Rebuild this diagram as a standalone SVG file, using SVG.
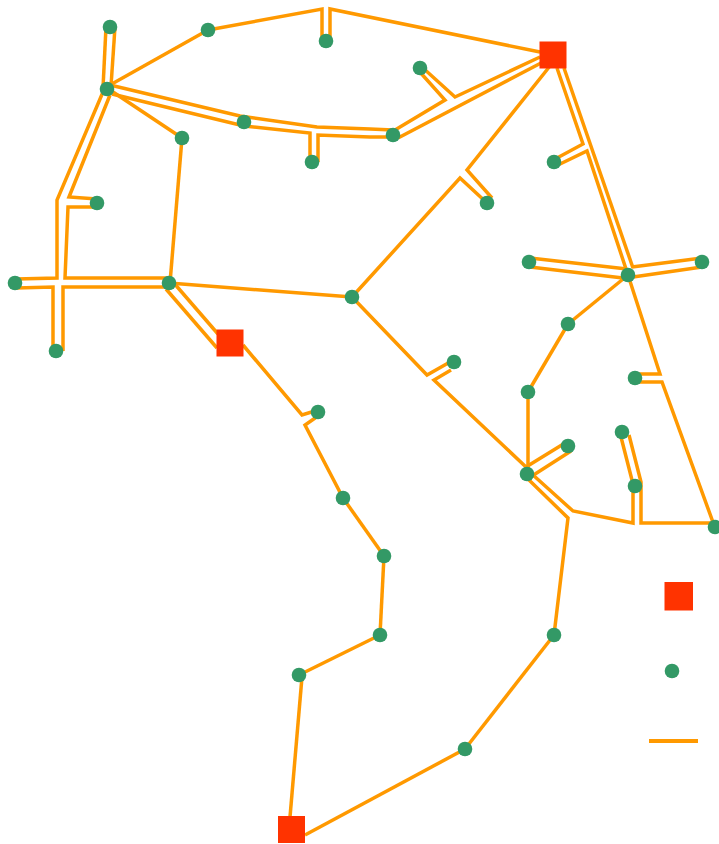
<svg xmlns="http://www.w3.org/2000/svg" width="719" height="844" viewBox="0 0 719 844">
<style>
.e{fill:none;stroke:#FF9900;stroke-width:3.5;stroke-linejoin:miter}
.n{fill:#339966}
.s{fill:#FF3300}
</style>
<rect width="719" height="844" fill="#ffffff"/>
<g id="connectors">
<polyline class="e" points="106,27 103,88"/>
<polyline class="e" points="115,27 111,86"/>
<polyline class="e" points="110,85 208,30"/>
<polyline class="e" points="208,30 322,9 322,42"/>
<polyline class="e" points="330,42 330,9 540,52"/>
<polyline class="e" points="110,85 240,116 317,127 370,129 393,130"/>
<polyline class="e" points="112,94 244,126 310,133 310,162"/>
<polyline class="e" points="318,162 318,135 370,137 393,137"/>
<polyline class="e" points="107,88 182,138"/>
<polyline class="e" points="182,138 170,283"/>
<polyline class="e" points="103,92 57,200 57,278 16,279"/>
<polyline class="e" points="110,95 69,197 97,199"/>
<polyline class="e" points="97,207 68,207 65,278 169,278"/>
<polyline class="e" points="16,288 53,287 53,351"/>
<polyline class="e" points="63,351 63,287 169,287"/>
<polyline class="e" points="169,283 352,297"/>
<polyline class="e" points="173,282 218,334"/>
<polyline class="e" points="166,289 217,348"/>
<polyline class="e" points="243,345 302,415 318,410"/>
<polyline class="e" points="318,416 305,425 343,498"/>
<polyline class="e" points="343,498 384,556"/>
<polyline class="e" points="384,556 380,635"/>
<polyline class="e" points="380,635 299,675"/>
<polyline class="e" points="302,677 290,817"/>
<polyline class="e" points="305,835 465,749"/>
<polyline class="e" points="465,749 554,635"/>
<polyline class="e" points="554,635 568,518 528,479"/>
<polyline class="e" points="533,475 573,511 633,523 633,484 621,437"/>
<polyline class="e" points="629,435 641,482 641,523 714,523"/>
<polyline class="e" points="526,467 565,443"/>
<polyline class="e" points="532,476 571,451"/>
<polyline class="e" points="528,474 528,392"/>
<polyline class="e" points="528,392 568,324"/>
<polyline class="e" points="568,324 628,275"/>
<polyline class="e" points="526,467 434,380 451,370"/>
<polyline class="e" points="450,362 427,375 352,297"/>
<polyline class="e" points="352,297 460,178 487,203"/>
<polyline class="e" points="492,198 467,170 550,66"/>
<polyline class="e" points="557,68 583,144 557,158"/>
<polyline class="e" points="564,68 633,268"/>
<polyline class="e" points="558,165 587,151 627,272"/>
<polyline class="e" points="530,258 627,269"/>
<polyline class="e" points="530,267 623,278"/>
<polyline class="e" points="632,267 702,258"/>
<polyline class="e" points="633,277 702,267"/>
<polyline class="e" points="628,275 660,374 636,374"/>
<polyline class="e" points="638,382 662,382 714,525"/>
<polyline class="e" points="419,71 445,100 395,130"/>
<polyline class="e" points="423,68 455,97 540,57"/>
<polyline class="e" points="398,138 541,63"/>
</g>
<g id="S1"><rect class="s" x="539.5" y="41.5" width="27" height="27"/></g>
<g id="S2"><rect class="s" x="216.5" y="329.5" width="27" height="27"/></g>
<g id="S3"><rect class="s" x="278" y="816" width="27" height="27"/></g>
<g id="nA"><circle class="n" cx="110" cy="27" r="7.3"/></g>
<g id="nB"><circle class="n" cx="208" cy="30" r="7.3"/></g>
<g id="nC"><circle class="n" cx="326" cy="41" r="7.3"/></g>
<g id="nD"><circle class="n" cx="107" cy="89" r="7.3"/></g>
<g id="nE"><circle class="n" cx="244" cy="122" r="7.3"/></g>
<g id="nF"><circle class="n" cx="182" cy="138" r="7.3"/></g>
<g id="nG"><circle class="n" cx="312" cy="162" r="7.3"/></g>
<g id="nH"><circle class="n" cx="97" cy="203" r="7.3"/></g>
<g id="nI"><circle class="n" cx="15" cy="283" r="7.3"/></g>
<g id="nJ"><circle class="n" cx="169" cy="283" r="7.3"/></g>
<g id="nK"><circle class="n" cx="352" cy="297" r="7.3"/></g>
<g id="nL"><circle class="n" cx="420" cy="68" r="7.3"/></g>
<g id="nM"><circle class="n" cx="393" cy="135" r="7.3"/></g>
<g id="nN"><circle class="n" cx="554" cy="162" r="7.3"/></g>
<g id="nO"><circle class="n" cx="487" cy="203" r="7.3"/></g>
<g id="nP"><circle class="n" cx="529" cy="262" r="7.3"/></g>
<g id="nQ"><circle class="n" cx="628" cy="275" r="7.3"/></g>
<g id="nR"><circle class="n" cx="702" cy="262" r="7.3"/></g>
<g id="nT"><circle class="n" cx="56" cy="351" r="7.3"/></g>
<g id="nU"><circle class="n" cx="318" cy="412" r="7.3"/></g>
<g id="nV"><circle class="n" cx="343" cy="498" r="7.3"/></g>
<g id="nW"><circle class="n" cx="454" cy="362" r="7.3"/></g>
<g id="nX"><circle class="n" cx="568" cy="324" r="7.3"/></g>
<g id="nY"><circle class="n" cx="528" cy="392" r="7.3"/></g>
<g id="nZ"><circle class="n" cx="635" cy="378" r="7.3"/></g>
<g id="nAA"><circle class="n" cx="622" cy="432" r="7.3"/></g>
<g id="nAB"><circle class="n" cx="568" cy="446" r="7.3"/></g>
<g id="nAC"><circle class="n" cx="527" cy="474" r="7.3"/></g>
<g id="nAD"><circle class="n" cx="635" cy="486" r="7.3"/></g>
<g id="nAE"><circle class="n" cx="715" cy="527" r="7.3"/></g>
<g id="nAF"><circle class="n" cx="384" cy="556" r="7.3"/></g>
<g id="nAG"><circle class="n" cx="380" cy="635" r="7.3"/></g>
<g id="nAH"><circle class="n" cx="554" cy="635" r="7.3"/></g>
<g id="nAI"><circle class="n" cx="299" cy="675" r="7.3"/></g>
<g id="nAJ"><circle class="n" cx="465" cy="749" r="7.3"/></g>
<g id="legend">
<rect class="s" x="664.5" y="582" width="28.5" height="28.5"/>
<circle class="n" cx="672" cy="671" r="7.3"/>
<line x1="649" y1="741" x2="698" y2="741" stroke="#FF9900" stroke-width="4"/>
</g>
</svg>
